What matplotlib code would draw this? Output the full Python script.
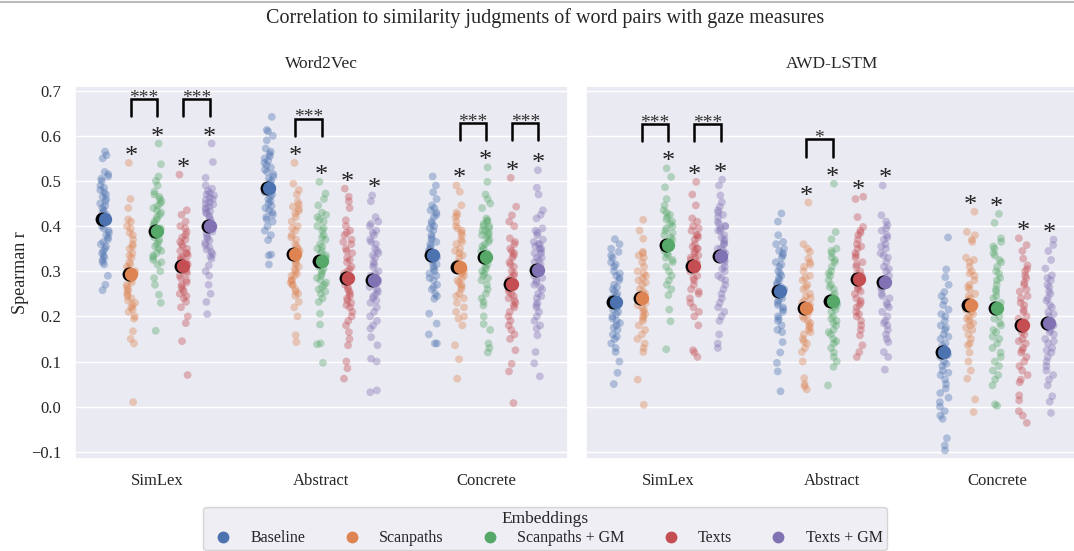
import matplotlib
matplotlib.use("Agg")
import matplotlib.pyplot as plt
from matplotlib.lines import Line2D
import numpy as np
import pandas as pd
import seaborn as sns

MODELS = ["Word2Vec", "AWD-LSTM"]
CATEGORIES = ["SimLex", "Abstract", "Concrete"]
EMBEDDINGS = ["Baseline", "Scanpaths", "Scanpaths + GM", "Texts", "Texts + GM"]

# Spearman r per participant
W2V_SIMLEX_BASELINE = [0.565, 0.557, 0.55, 0.52, 0.515, 0.51, 0.505, 0.50, 0.49, 0.485, 0.48, 0.475, 0.47, 0.465, 0.46, 0.455, 0.45, 0.445, 0.44, 0.435, 0.43, 0.425, 0.42, 0.415, 0.41, 0.41, 0.405, 0.40, 0.395, 0.39, 0.385, 0.38, 0.375, 0.37, 0.365, 0.36, 0.355, 0.35, 0.345, 0.34, 0.335, 0.33, 0.325, 0.32, 0.315, 0.29, 0.27, 0.258]
W2V_SIMLEX_SCAN = [0.54, 0.46, 0.44, 0.415, 0.41, 0.40, 0.395, 0.385, 0.38, 0.37, 0.36, 0.355, 0.35, 0.34, 0.335, 0.33, 0.32, 0.315, 0.31, 0.305, 0.30, 0.30, 0.295, 0.29, 0.285, 0.28, 0.275, 0.27, 0.265, 0.26, 0.255, 0.25, 0.245, 0.24, 0.235, 0.23, 0.225, 0.22, 0.215, 0.21, 0.20, 0.195, 0.167, 0.15, 0.14, 0.01]
W2V_SIMLEX_SCAN_GM = [0.583, 0.537, 0.51, 0.50, 0.49, 0.476, 0.47, 0.465, 0.46, 0.455, 0.45, 0.445, 0.44, 0.435, 0.43, 0.425, 0.42, 0.415, 0.41, 0.405, 0.40, 0.395, 0.39, 0.39, 0.385, 0.38, 0.375, 0.37, 0.365, 0.36, 0.355, 0.35, 0.345, 0.34, 0.335, 0.33, 0.325, 0.32, 0.315, 0.30, 0.285, 0.27, 0.248, 0.23, 0.168]
W2V_SIMLEX_TEXTS = [0.514, 0.435, 0.425, 0.41, 0.40, 0.395, 0.387, 0.38, 0.375, 0.37, 0.365, 0.36, 0.355, 0.35, 0.345, 0.34, 0.34, 0.335, 0.33, 0.33, 0.325, 0.32, 0.315, 0.31, 0.31, 0.305, 0.30, 0.295, 0.29, 0.285, 0.28, 0.275, 0.27, 0.265, 0.26, 0.255, 0.25, 0.245, 0.24, 0.232, 0.22, 0.20, 0.185, 0.145, 0.07]
W2V_SIMLEX_TEXTS_GM = [0.583, 0.542, 0.507, 0.49, 0.483, 0.478, 0.473, 0.47, 0.468, 0.463, 0.46, 0.458, 0.453, 0.45, 0.448, 0.443, 0.44, 0.438, 0.433, 0.43, 0.428, 0.423, 0.418, 0.413, 0.408, 0.403, 0.40, 0.398, 0.393, 0.388, 0.383, 0.378, 0.373, 0.368, 0.363, 0.358, 0.353, 0.348, 0.343, 0.338, 0.333, 0.328, 0.313, 0.30, 0.29, 0.27, 0.25, 0.232, 0.205]

W2V_ABSTRACT_BASELINE = [0.642, 0.613, 0.61, 0.60, 0.59, 0.572, 0.565, 0.56, 0.555, 0.55, 0.545, 0.54, 0.535, 0.53, 0.525, 0.52, 0.515, 0.51, 0.505, 0.50, 0.495, 0.49, 0.485, 0.48, 0.48, 0.475, 0.47, 0.465, 0.46, 0.455, 0.45, 0.445, 0.44, 0.435, 0.43, 0.425, 0.42, 0.415, 0.41, 0.40, 0.39, 0.38, 0.369, 0.337, 0.335, 0.315]
W2V_ABSTRACT_SCAN = [0.54, 0.494, 0.48, 0.47, 0.454, 0.448, 0.443, 0.438, 0.433, 0.428, 0.42, 0.41, 0.40, 0.395, 0.39, 0.38, 0.375, 0.37, 0.36, 0.355, 0.35, 0.345, 0.34, 0.335, 0.33, 0.325, 0.32, 0.315, 0.31, 0.305, 0.30, 0.295, 0.29, 0.29, 0.28, 0.28, 0.275, 0.27, 0.27, 0.26, 0.255, 0.25, 0.246, 0.232, 0.22, 0.20, 0.158, 0.143]
W2V_ABSTRACT_SCAN_GM = [0.498, 0.472, 0.46, 0.446, 0.43, 0.425, 0.42, 0.415, 0.41, 0.40, 0.395, 0.39, 0.38, 0.375, 0.37, 0.36, 0.355, 0.35, 0.345, 0.34, 0.335, 0.33, 0.325, 0.32, 0.315, 0.31, 0.305, 0.30, 0.295, 0.29, 0.285, 0.28, 0.275, 0.27, 0.265, 0.26, 0.255, 0.25, 0.24, 0.232, 0.206, 0.182, 0.14, 0.138, 0.097]
W2V_ABSTRACT_TEXTS = [0.483, 0.465, 0.455, 0.44, 0.413, 0.40, 0.39, 0.385, 0.38, 0.37, 0.365, 0.36, 0.35, 0.345, 0.34, 0.33, 0.325, 0.32, 0.31, 0.305, 0.30, 0.295, 0.29, 0.285, 0.28, 0.275, 0.27, 0.265, 0.26, 0.255, 0.25, 0.245, 0.24, 0.235, 0.23, 0.225, 0.22, 0.21, 0.20, 0.19, 0.18, 0.165, 0.15, 0.136, 0.10, 0.085, 0.062]
W2V_ABSTRACT_TEXTS_GM = [0.468, 0.455, 0.42, 0.41, 0.405, 0.40, 0.39, 0.385, 0.38, 0.37, 0.365, 0.36, 0.35, 0.345, 0.34, 0.335, 0.33, 0.32, 0.315, 0.31, 0.30, 0.295, 0.29, 0.285, 0.28, 0.275, 0.27, 0.265, 0.26, 0.255, 0.25, 0.245, 0.24, 0.235, 0.23, 0.22, 0.21, 0.20, 0.19, 0.18, 0.173, 0.154, 0.136, 0.106, 0.10, 0.036, 0.032]

W2V_CONCRETE_BASELINE = [0.51, 0.49, 0.475, 0.46, 0.446, 0.44, 0.435, 0.43, 0.425, 0.42, 0.41, 0.405, 0.40, 0.395, 0.39, 0.38, 0.375, 0.37, 0.365, 0.36, 0.355, 0.35, 0.345, 0.34, 0.335, 0.33, 0.325, 0.32, 0.315, 0.31, 0.305, 0.30, 0.295, 0.29, 0.285, 0.28, 0.27, 0.265, 0.26, 0.25, 0.245, 0.239, 0.206, 0.184, 0.16, 0.14, 0.14]
W2V_CONCRETE_SCAN = [0.49, 0.476, 0.446, 0.43, 0.425, 0.42, 0.41, 0.40, 0.395, 0.39, 0.385, 0.38, 0.37, 0.365, 0.36, 0.35, 0.345, 0.34, 0.335, 0.33, 0.32, 0.315, 0.31, 0.305, 0.30, 0.295, 0.29, 0.285, 0.28, 0.275, 0.27, 0.265, 0.26, 0.25, 0.245, 0.24, 0.23, 0.22, 0.21, 0.20, 0.195, 0.18, 0.136, 0.105, 0.062]
W2V_CONCRETE_SCAN_GM = [0.53, 0.498, 0.47, 0.46, 0.45, 0.44, 0.417, 0.413, 0.41, 0.405, 0.40, 0.40, 0.395, 0.39, 0.39, 0.385, 0.38, 0.38, 0.375, 0.37, 0.365, 0.36, 0.355, 0.35, 0.345, 0.34, 0.335, 0.33, 0.325, 0.32, 0.315, 0.31, 0.305, 0.30, 0.295, 0.29, 0.285, 0.28, 0.27, 0.26, 0.25, 0.24, 0.232, 0.224, 0.20, 0.183, 0.17, 0.14, 0.13, 0.12]
W2V_CONCRETE_TEXTS = [0.507, 0.443, 0.424, 0.41, 0.40, 0.373, 0.365, 0.36, 0.35, 0.345, 0.34, 0.335, 0.33, 0.32, 0.315, 0.31, 0.30, 0.295, 0.29, 0.285, 0.28, 0.275, 0.27, 0.265, 0.26, 0.255, 0.25, 0.245, 0.24, 0.235, 0.23, 0.225, 0.22, 0.21, 0.20, 0.19, 0.18, 0.17, 0.16, 0.15, 0.125, 0.095, 0.078, 0.008]
W2V_CONCRETE_TEXTS_GM = [0.524, 0.485, 0.47, 0.435, 0.425, 0.417, 0.395, 0.39, 0.385, 0.38, 0.37, 0.365, 0.36, 0.36, 0.355, 0.35, 0.35, 0.345, 0.34, 0.34, 0.33, 0.33, 0.325, 0.32, 0.315, 0.31, 0.305, 0.30, 0.295, 0.29, 0.285, 0.28, 0.275, 0.27, 0.265, 0.26, 0.25, 0.245, 0.24, 0.23, 0.225, 0.22, 0.21, 0.20, 0.19, 0.18, 0.173, 0.158, 0.121, 0.096, 0.067]

AWD_SIMLEX_BASELINE = [0.371, 0.36, 0.35, 0.343, 0.335, 0.33, 0.32, 0.315, 0.31, 0.30, 0.295, 0.29, 0.285, 0.28, 0.27, 0.265, 0.26, 0.255, 0.25, 0.245, 0.24, 0.235, 0.23, 0.225, 0.22, 0.215, 0.21, 0.205, 0.20, 0.195, 0.19, 0.185, 0.18, 0.175, 0.17, 0.16, 0.155, 0.15, 0.14, 0.13, 0.121, 0.10, 0.075, 0.05]
AWD_SIMLEX_SCAN = [0.414, 0.39, 0.372, 0.343, 0.34, 0.335, 0.33, 0.32, 0.31, 0.30, 0.295, 0.29, 0.285, 0.28, 0.275, 0.27, 0.26, 0.255, 0.25, 0.245, 0.24, 0.235, 0.23, 0.225, 0.22, 0.215, 0.21, 0.205, 0.20, 0.195, 0.19, 0.18, 0.17, 0.16, 0.15, 0.14, 0.13, 0.121, 0.06, 0.004]
AWD_SIMLEX_SCAN_GM = [0.528, 0.509, 0.486, 0.46, 0.446, 0.435, 0.43, 0.425, 0.42, 0.415, 0.41, 0.405, 0.40, 0.395, 0.39, 0.385, 0.38, 0.375, 0.37, 0.365, 0.36, 0.355, 0.35, 0.345, 0.34, 0.335, 0.33, 0.325, 0.32, 0.31, 0.30, 0.29, 0.28, 0.27, 0.26, 0.247, 0.215, 0.189, 0.127]
AWD_SIMLEX_TEXTS = [0.498, 0.47, 0.446, 0.417, 0.41, 0.40, 0.395, 0.39, 0.38, 0.38, 0.375, 0.37, 0.36, 0.355, 0.35, 0.35, 0.345, 0.34, 0.335, 0.33, 0.33, 0.325, 0.32, 0.315, 0.31, 0.305, 0.30, 0.29, 0.285, 0.28, 0.27, 0.26, 0.255, 0.25, 0.24, 0.23, 0.22, 0.21, 0.20, 0.18, 0.125, 0.12, 0.11]
AWD_SIMLEX_TEXTS_GM = [0.503, 0.49, 0.468, 0.453, 0.443, 0.435, 0.43, 0.425, 0.42, 0.41, 0.405, 0.40, 0.40, 0.395, 0.39, 0.39, 0.38, 0.375, 0.37, 0.365, 0.36, 0.36, 0.35, 0.35, 0.345, 0.34, 0.335, 0.33, 0.325, 0.32, 0.31, 0.305, 0.30, 0.29, 0.285, 0.28, 0.27, 0.26, 0.25, 0.24, 0.23, 0.22, 0.21, 0.20, 0.19, 0.16, 0.14, 0.13]

AWD_ABSTRACT_BASELINE = [0.428, 0.41, 0.38, 0.365, 0.36, 0.35, 0.345, 0.34, 0.335, 0.33, 0.32, 0.315, 0.31, 0.30, 0.295, 0.29, 0.285, 0.28, 0.275, 0.27, 0.265, 0.26, 0.255, 0.25, 0.245, 0.24, 0.235, 0.23, 0.225, 0.22, 0.215, 0.21, 0.20, 0.195, 0.19, 0.18, 0.17, 0.165, 0.143, 0.12, 0.097, 0.078, 0.034]
AWD_ABSTRACT_SCAN = [0.452, 0.36, 0.35, 0.343, 0.328, 0.32, 0.315, 0.31, 0.30, 0.29, 0.285, 0.28, 0.27, 0.265, 0.26, 0.25, 0.245, 0.24, 0.235, 0.23, 0.225, 0.22, 0.215, 0.21, 0.205, 0.20, 0.195, 0.19, 0.185, 0.18, 0.175, 0.17, 0.165, 0.16, 0.15, 0.145, 0.14, 0.13, 0.121, 0.10, 0.063, 0.05, 0.045, 0.038]
AWD_ABSTRACT_SCAN_GM = [0.494, 0.387, 0.371, 0.35, 0.345, 0.34, 0.33, 0.325, 0.32, 0.31, 0.30, 0.295, 0.29, 0.28, 0.27, 0.265, 0.26, 0.25, 0.245, 0.24, 0.235, 0.23, 0.225, 0.22, 0.215, 0.21, 0.20, 0.195, 0.19, 0.185, 0.18, 0.17, 0.165, 0.16, 0.15, 0.145, 0.14, 0.13, 0.12, 0.11, 0.10, 0.088, 0.047]
AWD_ABSTRACT_TEXTS = [0.465, 0.46, 0.42, 0.398, 0.39, 0.385, 0.38, 0.37, 0.36, 0.355, 0.35, 0.34, 0.335, 0.33, 0.32, 0.315, 0.31, 0.30, 0.295, 0.29, 0.285, 0.28, 0.27, 0.265, 0.26, 0.255, 0.25, 0.24, 0.235, 0.23, 0.225, 0.22, 0.21, 0.205, 0.20, 0.19, 0.18, 0.17, 0.158, 0.136, 0.121, 0.11]
AWD_ABSTRACT_TEXTS_GM = [0.49, 0.424, 0.41, 0.402, 0.395, 0.39, 0.38, 0.375, 0.37, 0.36, 0.355, 0.35, 0.34, 0.335, 0.33, 0.32, 0.31, 0.305, 0.30, 0.29, 0.285, 0.28, 0.27, 0.265, 0.26, 0.25, 0.245, 0.24, 0.23, 0.225, 0.22, 0.21, 0.20, 0.19, 0.185, 0.18, 0.17, 0.16, 0.15, 0.143, 0.121, 0.11, 0.082]

AWD_CONCRETE_BASELINE = [0.375, 0.304, 0.287, 0.27, 0.254, 0.245, 0.235, 0.225, 0.215, 0.205, 0.20, 0.19, 0.18, 0.175, 0.17, 0.16, 0.155, 0.15, 0.14, 0.135, 0.13, 0.125, 0.12, 0.115, 0.11, 0.10, 0.095, 0.09, 0.08, 0.075, 0.07, 0.06, 0.05, 0.04, 0.03, 0.02, 0.01, 0.0, -0.01, -0.02, -0.027, -0.07, -0.086, -0.097]
AWD_CONCRETE_SCAN = [0.432, 0.387, 0.38, 0.37, 0.365, 0.33, 0.325, 0.32, 0.31, 0.30, 0.295, 0.29, 0.28, 0.27, 0.265, 0.26, 0.25, 0.245, 0.24, 0.235, 0.23, 0.225, 0.22, 0.215, 0.21, 0.205, 0.20, 0.195, 0.19, 0.185, 0.18, 0.175, 0.17, 0.16, 0.15, 0.14, 0.136, 0.12, 0.10, 0.08, 0.062, 0.016, -0.012]
AWD_CONCRETE_SCAN_GM = [0.427, 0.407, 0.373, 0.365, 0.355, 0.35, 0.34, 0.335, 0.325, 0.32, 0.31, 0.30, 0.295, 0.285, 0.28, 0.27, 0.26, 0.255, 0.245, 0.24, 0.23, 0.225, 0.215, 0.21, 0.20, 0.195, 0.185, 0.18, 0.17, 0.165, 0.155, 0.15, 0.14, 0.13, 0.12, 0.11, 0.10, 0.09, 0.08, 0.07, 0.06, 0.047, 0.005, 0.002]
AWD_CONCRETE_TEXTS = [0.373, 0.358, 0.345, 0.328, 0.313, 0.305, 0.30, 0.29, 0.285, 0.275, 0.27, 0.26, 0.255, 0.245, 0.24, 0.23, 0.225, 0.215, 0.21, 0.20, 0.195, 0.185, 0.18, 0.17, 0.165, 0.16, 0.15, 0.145, 0.14, 0.13, 0.125, 0.12, 0.11, 0.10, 0.09, 0.08, 0.07, 0.06, 0.054, 0.025, 0.014, -0.01, -0.02, -0.036]
AWD_CONCRETE_TEXTS_GM = [0.37, 0.358, 0.345, 0.325, 0.306, 0.291, 0.285, 0.28, 0.27, 0.265, 0.255, 0.25, 0.24, 0.235, 0.225, 0.22, 0.21, 0.205, 0.20, 0.19, 0.185, 0.18, 0.175, 0.17, 0.165, 0.16, 0.15, 0.145, 0.14, 0.13, 0.125, 0.12, 0.11, 0.10, 0.09, 0.08, 0.07, 0.06, 0.047, 0.023, 0.011, -0.014]

# which strips get a "*" (one row per category, one flag per embedding)
W2V_STARS = [[0, 1, 1, 1, 1], [0, 1, 1, 1, 1], [0, 1, 1, 1, 1]]
AWD_STARS = [[0, 0, 1, 1, 1], [0, 1, 1, 1, 1], [0, 1, 1, 1, 1]]
# pairwise tests: (category, embedding a, embedding b, label)
W2V_BRACKETS = [(0, 1, 2, "***"), (0, 3, 4, "***"), (1, 1, 2, "***"),
                (2, 1, 2, "***"), (2, 3, 4, "***")]
AWD_BRACKETS = [(0, 1, 2, "***"), (0, 3, 4, "***"), (1, 1, 2, "*")]

SCORES = {
    ("Word2Vec", "SimLex"): [W2V_SIMLEX_BASELINE, W2V_SIMLEX_SCAN, W2V_SIMLEX_SCAN_GM, W2V_SIMLEX_TEXTS, W2V_SIMLEX_TEXTS_GM],
    ("Word2Vec", "Abstract"): [W2V_ABSTRACT_BASELINE, W2V_ABSTRACT_SCAN, W2V_ABSTRACT_SCAN_GM, W2V_ABSTRACT_TEXTS, W2V_ABSTRACT_TEXTS_GM],
    ("Word2Vec", "Concrete"): [W2V_CONCRETE_BASELINE, W2V_CONCRETE_SCAN, W2V_CONCRETE_SCAN_GM, W2V_CONCRETE_TEXTS, W2V_CONCRETE_TEXTS_GM],
    ("AWD-LSTM", "SimLex"): [AWD_SIMLEX_BASELINE, AWD_SIMLEX_SCAN, AWD_SIMLEX_SCAN_GM, AWD_SIMLEX_TEXTS, AWD_SIMLEX_TEXTS_GM],
    ("AWD-LSTM", "Abstract"): [AWD_ABSTRACT_BASELINE, AWD_ABSTRACT_SCAN, AWD_ABSTRACT_SCAN_GM, AWD_ABSTRACT_TEXTS, AWD_ABSTRACT_TEXTS_GM],
    ("AWD-LSTM", "Concrete"): [AWD_CONCRETE_BASELINE, AWD_CONCRETE_SCAN, AWD_CONCRETE_SCAN_GM, AWD_CONCRETE_TEXTS, AWD_CONCRETE_TEXTS_GM],
}
STARS = {"Word2Vec": W2V_STARS, "AWD-LSTM": AWD_STARS}
BRACKETS = {"Word2Vec": W2V_BRACKETS, "AWD-LSTM": AWD_BRACKETS}

rows = []
for (model, cat), groups in SCORES.items():
    for emb, vals in zip(EMBEDDINGS, groups):
        for v in vals:
            rows.append({"model": model, "category": cat, "embedding": emb, "r": v})
df = pd.DataFrame(rows)

sns.set_theme(style="darkgrid")
plt.rcParams["font.family"] = ["Liberation Serif", "DejaVu Serif"]
palette = sns.color_palette("deep", 5)
np.random.seed(3)

W, H = 1074, 551
fig = plt.figure(figsize=(W / 100, H / 100), dpi=100)
ax_w = fig.add_axes([75 / W, 92 / H, 493 / W, 373 / H])
ax_a = fig.add_axes([586 / W, 92 / H, 493 / W, 373 / H], sharey=ax_w)

offsets = np.linspace(-0.32, 0.32, len(EMBEDDINGS))

for ax, model in zip([ax_w, ax_a], MODELS):
    sub = df[df.model == model]
    sns.stripplot(data=sub, x="category", y="r", hue="embedding", order=CATEGORIES,
                  hue_order=EMBEDDINGS, palette=palette, dodge=True, jitter=0.14,
                  size=5.6, alpha=0.38, linewidth=0, legend=False, ax=ax)

    for ci, cat in enumerate(CATEGORIES):
        groups = SCORES[(model, cat)]
        for ei, vals in enumerate(groups):
            x = ci + offsets[ei]
            m = np.mean(vals)
            ax.scatter(x - 0.013, m, s=100, color="black", zorder=5, linewidths=0)
            ax.scatter(x, m, s=92, color=palette[ei], zorder=6, linewidths=0)
            if STARS[model][ci][ei]:
                ax.text(x, max(vals) + 0.0, "*", ha="center", va="baseline",
                        fontsize=19, color="#222222", zorder=7)

    # brackets share one level per category
    for ci in range(len(CATEGORIES)):
        pairs = [b for b in BRACKETS[model] if b[0] == ci]
        if not pairs:
            continue
        groups = SCORES[(model, CATEGORIES[ci])]
        level = max(max(groups[e]) for b in pairs for e in b[1:3]) + 0.06
        for _, a, b, label in pairs:
            xa, xb = ci + offsets[a], ci + offsets[b]
            top = level + 0.038
            ax.plot([xa, xa, xb, xb], [level, top, top, level], color="black",
                    lw=1.8, solid_joinstyle="miter", zorder=7)
            ax.text((xa + xb) / 2, top - 0.008, label, ha="center", va="baseline",
                    fontsize=14, color="#333333", zorder=7)

    ax.set_title(model, fontsize=12.5, pad=13)
    ax.set_xlabel("")
    ax.set_xlim(-0.5, 2.5)
    ax.tick_params(axis="x", labelsize=12, pad=4)
    ax.tick_params(axis="y", labelsize=12, pad=4)

ax_w.set_ylim(-0.116, 0.7104)
ax_w.set_yticks(np.arange(-0.1, 0.71, 0.1))
ax_w.set_ylabel("Spearman r", fontsize=13, labelpad=1)
ax_a.set_ylabel("")
ax_a.tick_params(axis="y", labelleft=False)

fig.text(545 / W, 1 - 18 / H, "Correlation to similarity judgments of word pairs with gaze measures",
         ha="center", va="center", fontsize=14.5)
fig.add_artist(Line2D([0, 1], [1 - 1.5 / H, 1 - 1.5 / H], color="#bbbbbb", lw=1.5))

handles = [Line2D([], [], marker="o", linestyle="", markersize=7.5, color=c) for c in palette]
leg = fig.legend(handles, EMBEDDINGS, title="Embeddings", loc="upper center",
                 bbox_to_anchor=(545 / W, 1 - 507 / H), ncol=5, fontsize=11.5,
                 title_fontsize=12.5, frameon=True, columnspacing=1.9,
                 handletextpad=0.7, handlelength=2.0, borderpad=0.25,
                 labelspacing=0.2, borderaxespad=0)
leg.get_frame().set_facecolor("#EAEAF2")
leg.get_frame().set_edgecolor("#cccccc")

fig.savefig("out.png", dpi=100)
